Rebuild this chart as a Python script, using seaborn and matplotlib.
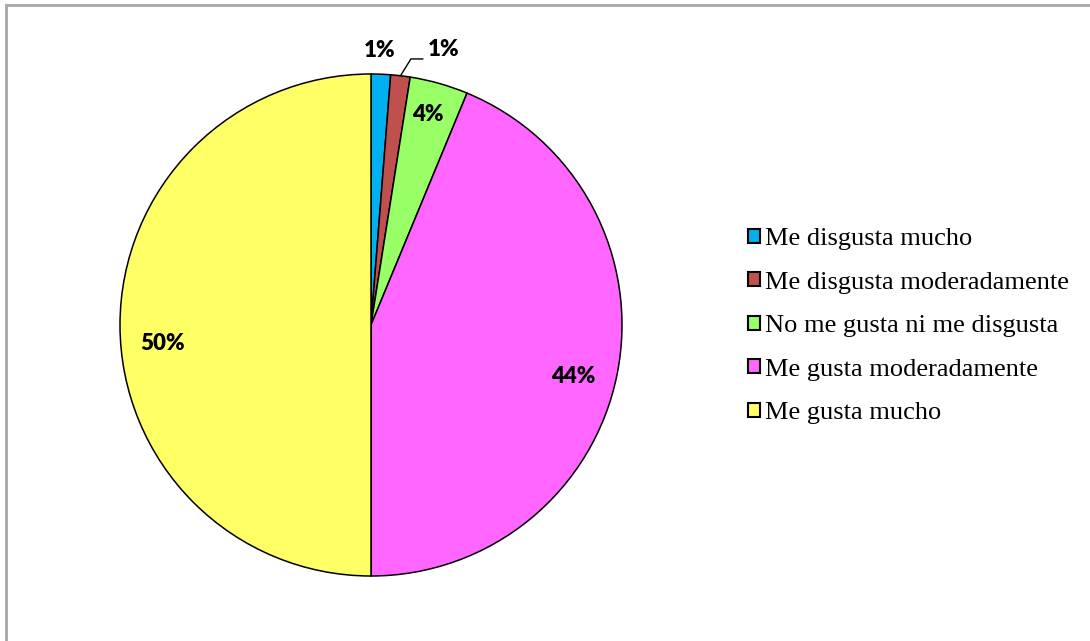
import numpy as np
import matplotlib
matplotlib.use("Agg")
import matplotlib.pyplot as plt
from matplotlib.patches import Patch, Rectangle
import seaborn as sns

categories = ["Me disgusta mucho", "Me disgusta moderadamente",
              "No me gusta ni me disgusta", "Me gusta moderadamente",
              "Me gusta mucho"]
counts = [1, 1, 3, 35, 40]
pct_labels = ["1%", "1%", "4%", "44%", "50%"]
colors = ["#00B0F0", "#C0504D", "#99FF66", "#FF66FF", "#FFFF66"]

sns.set_theme(style="white")
plt.rcParams["text.color"] = "black"
palette = sns.color_palette(colors)

W, H = 1090, 641
fig = plt.figure(figsize=(W / 100, H / 100), dpi=100)
fig.patch.set_facecolor("white")

# outer frame (top and left visible)
fig.add_artist(Rectangle((6 / W, -0.05), 1.2, (H - 5) / H + 0.05, transform=fig.transFigure,
                         fill=False, edgecolor="#A6A6A6", linewidth=2))

cx, cy, r = 371, 325, 251
ax = fig.add_axes([(cx - r) / W, (H - cy - r) / H, 2 * r / W, 2 * r / H])
ax.axis("off")

wedges, _ = ax.pie(counts, colors=palette, startangle=90, counterclock=False,
                   wedgeprops=dict(edgecolor="black", linewidth=1.1),
                   radius=1, frame=False)
ax.set_xlim(-1, 1)
ax.set_ylim(-1, 1)
ax.set_aspect("auto")

# label placement (layout): (radius, angle in degrees)
label_pos = [(1.096, 88.1), (1.133, 75.3), (0.867, 74.8), (0.831, -14.4), (0.834, 185.1)]
for (rr, ang), txt in zip(label_pos, pct_labels):
    x = rr * np.cos(np.deg2rad(ang))
    y = rr * np.sin(np.deg2rad(ang))
    ax.text(x, y, txt, ha="center", va="center", fontsize=16, fontweight="heavy",
            family="Lato", color="black", clip_on=False)

# leader line for the second label
w = wedges[1]
mid = np.deg2rad((w.theta1 + w.theta2) / 2)
p0 = (np.cos(mid), np.sin(mid))
ax.plot([p0[0], 0.159, 0.207], [p0[1], 1.060, 1.060], color="black", lw=1, clip_on=False)

handles = [Patch(facecolor=c, edgecolor="black", linewidth=1.5) for c in palette]
leg = fig.legend(handles, categories, loc="upper left", bbox_to_anchor=(748 / W, (H - 228) / H),
                 frameon=False, prop={"family": "Liberation Serif", "size": 19},
                 handlelength=0.45, handleheight=0.45, handletextpad=0.2,
                 labelspacing=0.815, borderaxespad=0, borderpad=0, labelcolor="black")

fig.savefig("out.png", dpi=100, facecolor="white")
